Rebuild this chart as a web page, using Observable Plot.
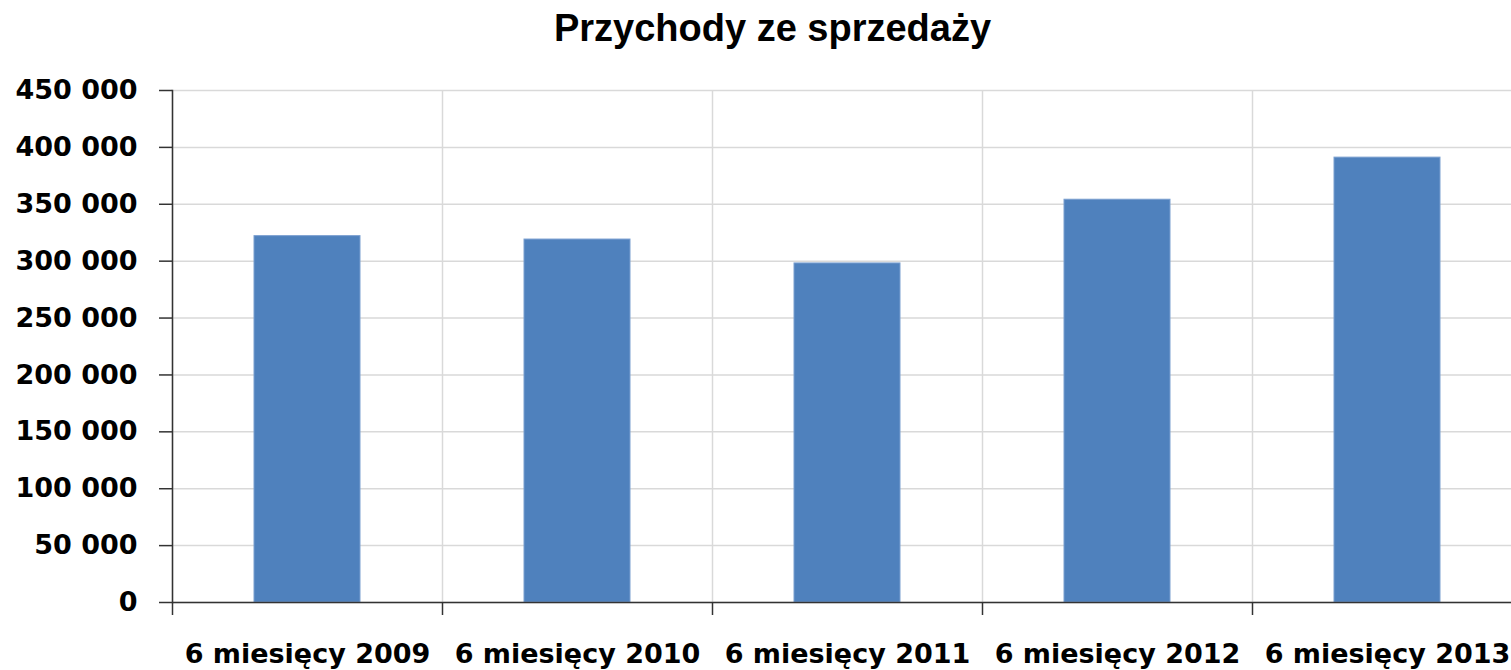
<!DOCTYPE html>
<html><head><meta charset="utf-8">
<script src="https://cdn.jsdelivr.net/npm/d3@7"></script>
<script src="https://cdn.jsdelivr.net/npm/@observablehq/plot@0.6"></script>
<style>
body{margin:0;background:#fff;overflow:hidden;width:1511px;height:670px}
#title{height:60px;line-height:76px;overflow:visible;position:relative;top:7px;font:bold 38px "Liberation Sans",Arial,sans-serif;text-align:center;padding-left:34px;width:1477px;color:#000}
#chart{width:1522px;height:610px;overflow:visible}
</style></head><body>
<div id="title">Przychody ze sprzedaży</div>
<div id="chart"></div>
<script>
const categories = ["6 miesięcy 2009", "6 miesięcy 2010", "6 miesięcy 2011", "6 miesięcy 2012", "6 miesięcy 2013"];
const values = [322000, 319000, 298000, 354000, 391000];
const yTicks = [0, 50000, 100000, 150000, 200000, 250000, 300000, 350000, 400000, 450000];

const data = categories.map((c, i) => ({cat: c, value: values[i]}));
const fmt = d3.formatLocale({decimal: ",", thousands: " ", grouping: [3], currency: ["", ""]}).format(",d");

const W = 1522, ML = 172, MR = 0;
const step = (W - ML - MR) / categories.length;

const chart = Plot.plot({
  width: W, height: 610,
  marginTop: 30, marginBottom: 68, marginLeft: ML, marginRight: MR,
  style: {fontFamily: "DejaVu Sans", fontSize: "27px", fontWeight: "bold", color: "#000", background: "#fff", maxWidth: "none"},
  x: {type: "band", domain: categories, padding: 0, label: null},
  y: {domain: [0, 450000], label: null},
  marks: [
    Plot.gridY(yTicks, {stroke: "#d9d9d9", strokeOpacity: 1, strokeWidth: 1.5}),
    Plot.gridX(categories, {stroke: "#d9d9d9", strokeOpacity: 1, strokeWidth: 1.5, dx: -step / 2}),
    Plot.barY(data, {x: "cat", y: "value", fill: "#4F81BD", stroke: "#7A9FD0", strokeWidth: 1, insetLeft: 82, insetRight: 82}),
    Plot.ruleY([0], {stroke: "#333", strokeWidth: 1.5}),
    Plot.frame({anchor: "left", stroke: "#333", strokeWidth: 1.5}),
    Plot.axisY({ticks: yTicks, tickSize: 13, tickPadding: 22, tickFormat: fmt, stroke: "#333", strokeWidth: 1.5, fill: "#000", label: null}),
    Plot.axisX({tickSize: 13, tickFormat: () => "", dx: -step / 2, stroke: "#333", strokeWidth: 1.5, label: null}),
    Plot.axisX({tickSize: 0, tickPadding: 41, fill: "#000", label: null})
  ]
});
document.getElementById("chart").appendChild(chart);
</script>
</body></html>
